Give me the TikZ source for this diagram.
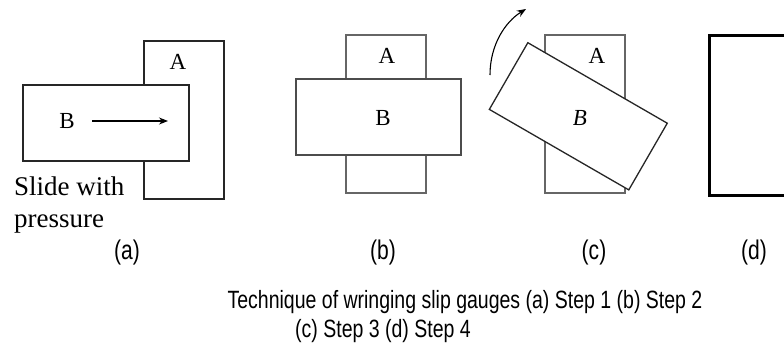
\documentclass[tikz,border=0pt]{standalone}
\usepackage{fontspec}
\setmainfont{Liberation Serif}
\newfontfamily\capfont[FakeStretch=0.78]{Liberation Sans}
\usetikzlibrary{arrows.meta}
\begin{document}
\begin{tikzpicture}[x=1pt,y=-1pt,
  gauge/.style={draw=#1,line width=1.3pt,fill=white,inner sep=0pt,outer sep=0pt},
  gauge/.default=black,
  lbl/.style={font=\fontsize{23}{27}\selectfont,inner sep=0pt},
  sublbl/.style={font=\capfont\fontsize{27}{30}\selectfont,inner sep=0pt},
  captext/.style={font=\capfont\fontsize{25}{29}\selectfont,inner sep=0pt},
  arr/.style={line width=1.1pt,-{Stealth[length=9pt,width=7pt]}}]
\useasboundingbox (0,0) rectangle (784,357);
% (a)
\node[gauge=black!85, minimum width=80pt, minimum height=158pt] (aA) at (184,120) {};
\node[gauge=black!85, minimum width=166pt, minimum height=76pt] (aB) at (106,123) {};
\node[lbl] (aAl) at (178,62) {A};
\node[lbl] (aBl) at (67,121) {B};
\coordinate (a1) at (92,121);
\coordinate (a2) at (168,121);
\draw[arr] (a1) -- (a2);
\node[font=\fontsize{27}{32}\selectfont,inner sep=0pt,anchor=base west] (slide) at (14,195) {Slide with};
\node[font=\fontsize{27}{32}\selectfont,inner sep=0pt,anchor=base west] (press) at (14,227) {pressure};
\node[sublbl] (la) at (127,253) {(a)};
% (b)
\node[gauge=black!60, minimum width=80pt, minimum height=158pt] (bA) at (386,114) {};
\node[gauge=black!70, minimum width=165pt, minimum height=76pt] (bB) at (378.5,117) {};
\node[lbl] (bAl) at (387,56) {A};
\node[lbl] (bBl) at (383,118) {B};
\node[sublbl] (lb) at (383,253) {(b)};
% (c)
\node[gauge=black!60, minimum width=80pt, minimum height=158pt] (cA) at (585,114) {};
\node[gauge=black!85, minimum width=161pt, minimum height=77pt, rotate=-30] (cB) at (578.3,116.3) {};
\node[lbl] (cAl) at (597,56) {A};
\node[lbl] (cBl) at (580,118) {\itshape B};
\coordinate (c1) at (490,75);
\coordinate (c2) at (526,9);
\draw[arr] (c1) .. controls (490,45) and (505,22) .. (c2);
\node[sublbl] (lc) at (594,253) {(c)};
% (d)
\coordinate (d1) at (790,35);
\coordinate (d2) at (709,35);
\coordinate (d3) at (709,195);
\coordinate (d4) at (790,195);
\draw[line width=3pt,line join=miter] (d1) -- (d2) -- (d3) -- (d4);
\node[sublbl] (ld) at (754,253) {(d)};
% caption
\node[captext] (cap1) at (465,302) {Technique of wringing slip gauges (a) Step 1 (b) Step 2};
\node[captext] (cap2) at (383,331) {(c) Step 3 (d) Step 4};
\end{tikzpicture}
\end{document}
